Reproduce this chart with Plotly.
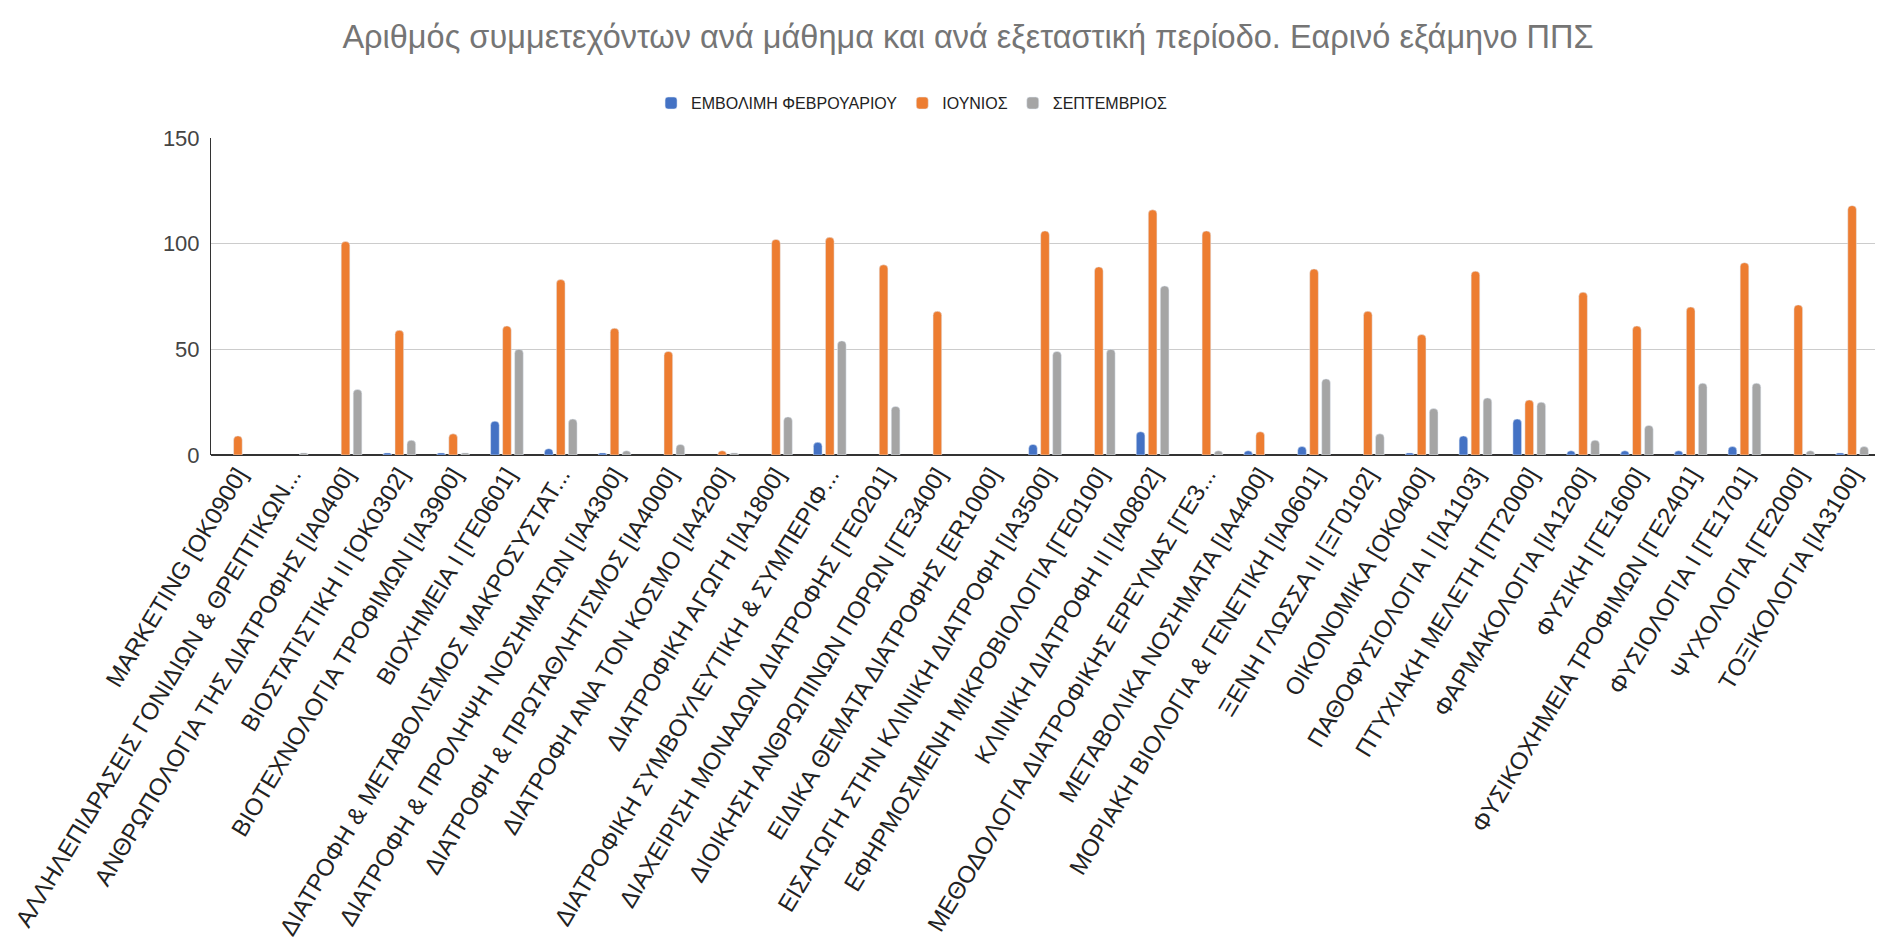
import plotly.graph_objects as go

courses = [
    "MARKETING [OK0900]",
    "ΑΛΛΗΛΕΠΙΔΡΑΣΕΙΣ ΓΟΝΙΔΙΩΝ & ΘΡΕΠΤΙΚΩΝ...",
    "ΑΝΘΡΩΠΟΛΟΓΙΑ ΤΗΣ ΔΙΑΤΡΟΦΗΣ [ΙΑ0400]",
    "ΒΙΟΣΤΑΤΙΣΤΙΚΗ ΙΙ [OK0302]",
    "ΒΙΟΤΕΧΝΟΛΟΓΙΑ ΤΡΟΦΙΜΩΝ [ΙΑ3900]",
    "ΒΙΟΧΗΜΕΙΑ Ι [ΓΕ0601]",
    "ΔΙΑΤΡΟΦΗ & ΜΕΤΑΒΟΛΙΣΜΟΣ ΜΑΚΡΟΣΥΣΤΑΤ...",
    "ΔΙΑΤΡΟΦΗ & ΠΡΟΛΗΨΗ ΝΟΣΗΜΑΤΩΝ [ΙΑ4300]",
    "ΔΙΑΤΡΟΦΗ & ΠΡΩΤΑΘΛΗΤΙΣΜΟΣ [ΙΑ4000]",
    "ΔΙΑΤΡΟΦΗ ΑΝΑ ΤΟΝ ΚΟΣΜΟ [ΙΑ4200]",
    "ΔΙΑΤΡΟΦΙΚΗ ΑΓΩΓΗ [ΙΑ1800]",
    "ΔΙΑΤΡΟΦΙΚΗ ΣΥΜΒΟΥΛΕΥΤΙΚΗ & ΣΥΜΠΕΡΙΦ...",
    "ΔΙΑΧΕΙΡΙΣΗ ΜΟΝΑΔΩΝ ΔΙΑΤΡΟΦΗΣ [ΓΕ0201]",
    "ΔΙΟΙΚΗΣΗ ΑΝΘΡΩΠΙΝΩΝ ΠΟΡΩΝ [ΓΕ3400]",
    "ΕΙΔΙΚΑ ΘΕΜΑΤΑ ΔΙΑΤΡΟΦΗΣ [ER1000]",
    "ΕΙΣΑΓΩΓΗ ΣΤΗΝ ΚΛΙΝΙΚΗ ΔΙΑΤΡΟΦΗ [ΙΑ3500]",
    "ΕΦΗΡΜΟΣΜΕΝΗ ΜΙΚΡΟΒΙΟΛΟΓΙΑ [ΓΕ0100]",
    "ΚΛΙΝΙΚΗ ΔΙΑΤΡΟΦΗ ΙΙ [ΙΑ0802]",
    "ΜΕΘΟΔΟΛΟΓΙΑ ΔΙΑΤΡΟΦΙΚΗΣ ΕΡΕΥΝΑΣ [ΓΕ3...",
    "ΜΕΤΑΒΟΛΙΚΑ ΝΟΣΗΜΑΤΑ [ΙΑ4400]",
    "ΜΟΡΙΑΚΗ ΒΙΟΛΟΓΙΑ & ΓΕΝΕΤΙΚΗ [ΙΑ0601]",
    "ΞΕΝΗ ΓΛΩΣΣΑ ΙΙ [ΞΓ0102]",
    "ΟΙΚΟΝΟΜΙΚΑ [OK0400]",
    "ΠΑΘΟΦΥΣΙΟΛΟΓΙΑ Ι [ΙΑ1103]",
    "ΠΤΥΧΙΑΚΗ ΜΕΛΕΤΗ [ΠΤ2000]",
    "ΦΑΡΜΑΚΟΛΟΓΙΑ [ΙΑ1200]",
    "ΦΥΣΙΚΗ [ΓΕ1600]",
    "ΦΥΣΙΚΟΧΗΜΕΙΑ ΤΡΟΦΙΜΩΝ [ΓΕ2401]",
    "ΦΥΣΙΟΛΟΓΙΑ Ι [ΓΕ1701]",
    "ΨΥΧΟΛΟΓΙΑ [ΓΕ2000]",
    "ΤΟΞΙΚΟΛΟΓΙΑ [ΙΑ3100]",
]

feb = [0, 0, 0, 1, 1, 16, 3, 1, 0, 0, 0, 6, 0, 0, 0, 5,
       0, 11, 0, 2, 4, 0, 1, 9, 17, 2, 2, 2, 4, 0, 1]
june = [9, 0, 101, 59, 10, 61, 83, 60, 49, 2, 102, 103, 90, 68, 0, 106,
        89, 116, 106, 11, 88, 68, 57, 87, 26, 77, 61, 70, 91, 71, 118]
sept = [0, 1, 31, 7, 1, 50, 17, 2, 5, 1, 18, 54, 23, 0, 0, 49,
        50, 80, 2, 0, 36, 10, 22, 27, 25, 7, 14, 34, 34, 2, 4]

series = [
    ("ΕΜΒΟΛΙΜΗ ΦΕΒΡΟΥΑΡΙΟΥ", feb, "#4472C4"),
    ("ΙΟΥΝΙΟΣ", june, "#ED7D31"),
    ("ΣΕΠΤΕΜΒΡΙΟΣ", sept, "#A5A5A5"),
]

font = "Liberation Sans, Arial"

fig = go.Figure()
for name, vals, color in series:
    # zero counts draw no bar at all
    fig.add_trace(go.Bar(x=courses, y=[v if v else None for v in vals],
                         name=name, marker_color=color))

fig.update_layout(
    width=1875, height=938,
    margin=dict(l=203, r=4, t=130, b=491),
    paper_bgcolor="white", plot_bgcolor="white",
    barmode="group", bargap=0.33, bargroupgap=0.28, barcornerradius=4,
    title=dict(
        text="Αριθμός συμμετεχόντων ανά μάθημα και ανά εξεταστική περίοδο. Εαρινό εξάμηνο ΠΠΣ",
        x=0.512, xref="container", xanchor="center",
        y=0.970, yref="container", yanchor="middle",
        font=dict(family=font, size=32.5, color="#757575"),
    ),
    legend=dict(
        orientation="h", x=0.42, xanchor="center", y=1.11, yanchor="middle",
        font=dict(family=font, size=16, color="#222222"),
    ),
    showlegend=True,
)
fig.update_xaxes(
    tickangle=-59, automargin=False, showgrid=False,
    tickfont=dict(family=font, size=24, color="#222222"),
    showline=False,
)
fig.update_yaxes(
    range=[0, 150], tickvals=[0, 50, 100, 150], automargin=False,
    showgrid=True, gridcolor="#cccccc", gridwidth=1,
    zeroline=True, zerolinecolor="#333333", zerolinewidth=2,
    showline=True, linecolor="#333333", linewidth=1,
    tickfont=dict(family=font, size=22, color="#444444"),
    ticklabelstandoff=6,
)

fig.write_html("out.html")
